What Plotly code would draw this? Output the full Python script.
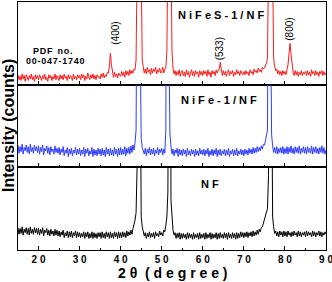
import numpy as np
import plotly.graph_objects as go
from plotly.subplots import make_subplots

# 2-theta grid, 0.25 degree steps from 15 to 90
two_theta = np.round(np.arange(15, 90.001, 0.25), 2)

nifes = [12,6,10,5,13,7,11,4,12,8,5,11,7,13,6,10,4,12,7,11,
         6,12,8,5,11,7,13,6,9,4,12,8,11,5,10,7,13,6,11,8,
         5,12,7,11,6,13,8,10,5,12,7,11,9,5,13,7,10,6,12,8,
         11,6,13,8,12,5,10,7,14,9,6,12,8,13,7,11,6,12,9,10,
         7,13,9,14,8,12,10,15,14,22,38,24,14,9,15,10,13,8,14,11,
         10,16,11,15,9,17,12,16,11,18,13,17,14,19,18,30,140,400,600,400,
         140,30,22,14,19,13,21,15,18,12,20,14,19,16,21,13,18,15,20,14,
         16,21,14,19,20,40,160,500,500,160,40,20,13,17,11,16,12,18,10,15,
         17,11,15,10,18,12,16,9,14,18,11,16,10,17,13,15,9,17,12,16,
         11,17,13,16,10,18,12,15,9,17,13,16,11,18,14,17,19,27,16,11,
         17,12,16,10,15,18,11,16,13,17,10,15,12,18,13,16,11,17,14,12,
         16,12,17,13,15,11,18,14,16,12,19,15,17,14,20,16,18,15,21,19,
         20,23,26,32,140,400,600,400,140,32,22,17,19,13,17,12,16,11,17,13,
         16,12,18,24,38,50,36,22,15,11,17,12,16,10,15,12,17,11,15,13,
         16,11,17,12,15,10,18,13,16,11,17,12,15,10,16,13,17,11,16,12,
         14]

nife = [27,17,25,19,28,16,24,20,27,18,25,16,28,19,24,17,27,20,25,18,
        26,16,24,19,27,15,23,20,26,17,24,15,25,19,22,16,26,18,23,17,
        24,15,22,18,25,14,21,17,24,13,22,16,23,14,21,17,24,15,22,16,
        23,14,21,16,24,13,22,17,23,14,20,16,24,13,22,15,21,14,23,16,
        22,14,23,15,21,13,24,16,22,14,23,15,21,14,24,16,22,13,23,15,
        24,15,22,16,25,14,23,17,24,16,26,18,27,21,30,45,250,900,700,150,
        35,24,20,16,23,14,22,17,24,15,22,16,23,14,21,17,24,15,22,18,
        23,15,22,17,45,400,900,150,40,25,16,22,14,21,17,23,13,22,15,21,
        14,22,16,21,13,23,15,20,14,22,16,21,13,22,15,20,14,23,16,21,
        15,22,14,21,16,23,13,20,15,22,14,21,16,23,13,21,15,22,14,20,
        16,22,14,21,15,23,13,20,16,22,14,21,15,23,14,20,16,22,15,21,
        14,22,16,21,15,23,17,22,16,24,17,23,18,25,19,24,20,26,22,28,
        27,32,38,45,300,1000,200,40,26,18,24,17,25,16,23,18,24,17,25,16,
        23,17,25,16,24,18,26,17,23,16,25,18,24,17,26,16,23,18,25,17,
        24,16,25,18,23,17,26,16,24,18,25,17,23,16,24,18,26,17,24,16,
        21]

nf = [27,19,26,20,28,18,25,21,27,19,26,18,28,20,25,19,27,21,26,19,
      26,18,25,20,27,17,24,21,26,18,24,17,25,19,23,17,25,18,24,17,
      23,16,22,18,24,15,21,17,23,15,22,16,23,15,21,17,23,15,22,16,
      21,15,20,16,22,14,21,16,22,14,20,15,22,14,21,15,20,14,21,16,
      21,14,22,15,20,14,22,16,21,14,22,15,20,14,22,16,21,14,22,15,
      21,15,22,16,21,15,23,17,22,18,24,19,26,30,36,45,100,500,1000,250,
      40,28,22,17,21,14,20,16,22,15,20,16,21,14,22,17,20,16,23,18,
      21,17,24,22,30,40,70,600,600,60,32,24,18,21,14,20,15,21,13,20,
      14,20,15,19,13,21,14,20,15,19,13,21,14,19,15,20,13,21,14,19,
      15,20,13,21,14,19,15,21,13,20,14,19,15,21,13,20,14,21,15,19,
      14,21,15,20,13,21,15,19,14,21,15,20,13,21,14,20,15,22,16,21,
      15,21,16,22,15,21,17,22,16,23,17,22,18,24,19,25,22,27,28,33,
      38,40,45,50,90,600,900,250,40,28,20,23,17,22,16,23,18,22,16,23,
      17,22,16,23,18,21,16,22,17,23,18,21,16,23,17,22,16,21,18,22,
      16,23,17,22,18,21,16,23,17,22,16,21,18,23,17,22,16,21,18,22,
      19]

series_names = ["NiFeS-1/NF", "NiFe-1/NF", "NF"]
panel_labels = ["N i F e S - 1 / N F", "N i F e - 1 / N F", "N F"]
colors = ["#ff1a1a", "#2f3bff", "#000000"]
tick_vals = [20, 30, 40, 50, 60, 70, 80, 90]
tick_text = ["2 0", "3 0", "4 0", "5 0", "6 0", "7 0", "8 0", "9 0"]
minor_vals = [15, 25, 35, 45, 55, 65, 75, 85]

fig = make_subplots(rows=3, cols=1, shared_xaxes=True, vertical_spacing=0)
for i, (ys, c, nm) in enumerate(zip([nifes, nife, nf], colors, series_names)):
    fig.add_trace(go.Scatter(x=two_theta[:len(ys)], y=ys, mode="lines", name=nm,
                             line=dict(color=c, width=1), showlegend=False),
                  row=i + 1, col=1)

font_b = "Liberation Sans, Arial, sans-serif"
for r in range(1, 4):
    fig.update_xaxes(range=[15, 90], tickvals=tick_vals, ticktext=tick_text,
                     ticks="inside", ticklen=4, tickwidth=1, tickcolor="black",
                     minor=dict(tickvals=minor_vals, ticks="inside", ticklen=2, tickcolor="black"),
                     showline=True, linecolor="black", linewidth=1.3, mirror=True,
                     showgrid=False, zeroline=False, automargin=False,
                     ticklabeloverflow="allow",
                     tickfont=dict(family=font_b, size=10, color="black", weight="bold"),
                     row=r, col=1)
    fig.update_yaxes(range=[0, 100], showticklabels=False, ticks="",
                     showline=True, linecolor="black", linewidth=1.3, mirror=True,
                     showgrid=False, zeroline=False, automargin=False, row=r, col=1)

ann = []
def add(text, x, y, yref, size=11, bold=True, angle=0):
    ann.append(dict(text=text, x=x, y=y, xref="x", yref=yref, showarrow=False,
                    textangle=angle,
                    font=dict(family=font_b, size=size, color="black",
                              weight="bold" if bold else "normal")))

add(panel_labels[0], 64.5, 84, "y", size=11)
add(panel_labels[1], 63.9, 81, "y2", size=11)
add(panel_labels[2], 61.8, 80, "y3", size=11)
add("P\u200aD\u200aF  n\u200ao\u200a.", 23.4, 41, "y", size=9)
add("0\u200a0\u200a-\u200a0\u200a4\u200a7\u200a-\u200a1\u200a7\u200a4\u200a0", 24.1, 29, "y", size=9)
add("(400)", 38.7, 62, "y", size=10, bold=False, angle=-90)
add("(533)", 64.0, 43, "y", size=10, bold=False, angle=-90)
add("(800)", 81.1, 67, "y", size=10, bold=False, angle=-90)

ann.append(dict(text="Intensity (counts)", xref="paper", yref="paper", x=-10/308, y=0.5,
                xanchor="center", yanchor="middle",
                showarrow=False, textangle=-90,
                font=dict(family=font_b, size=16, color="black", weight="bold")))
ann.append(dict(text="2 θ  ( d e g r e e )", xref="paper", yref="paper", x=0.5, y=-23/248,
                yanchor="middle", showarrow=False,
                font=dict(family=font_b, size=14, color="black", weight="bold")))

fig.update_layout(width=332, height=282, margin=dict(l=18, r=6, t=2, b=32),
                  paper_bgcolor="white", plot_bgcolor="white", annotations=ann)

fig.write_html("out.html", config={"displayModeBar": False},
               post_script="document.body.style.margin='0';")
